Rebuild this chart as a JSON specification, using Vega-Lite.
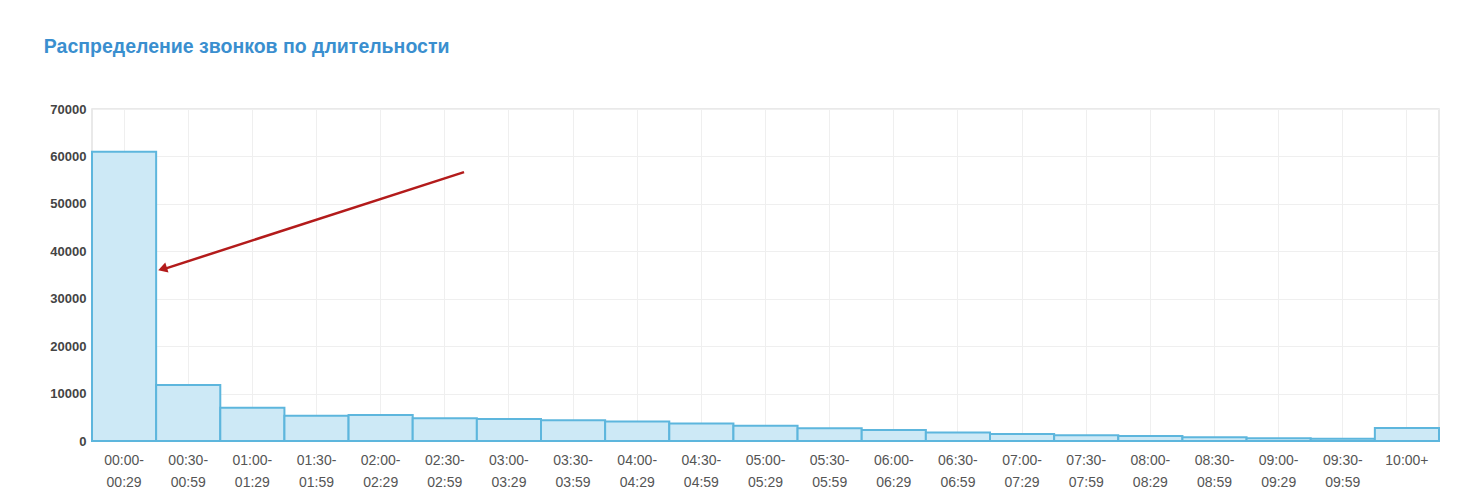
{
  "$schema": "https://vega.github.io/schema/vega-lite/v6.json",
  "autosize": "none",
  "width": 1347,
  "height": 332,
  "padding": {"left": 92, "top": 109, "right": 35, "bottom": 63},
  "background": "#ffffff",
  "title": {
    "text": "Распределение звонков по длительности",
    "anchor": "start",
    "frame": "bounds",
    "offset": 46,
    "dx": -6,
    "font": "Liberation Sans",
    "fontSize": 19.5,
    "fontWeight": "bold",
    "color": "#3a8fcf"
  },
  "config": {
    "view": {"stroke": "#e2e2e2", "strokeWidth": 1.5},
    "axis": {"gridColor": "#efefef", "gridWidth": 1, "domain": false, "ticks": false, "labelFont": "Liberation Sans", "labelFontSize": 12}
  },
  "layer": [
    {
      "data": {"values": [
        {"range": "00:00-00:29", "calls": 61000},
        {"range": "00:30-00:59", "calls": 11800},
        {"range": "01:00-01:29", "calls": 7000},
        {"range": "01:30-01:59", "calls": 5300},
        {"range": "02:00-02:29", "calls": 5500},
        {"range": "02:30-02:59", "calls": 4800},
        {"range": "03:00-03:29", "calls": 4650},
        {"range": "03:30-03:59", "calls": 4400},
        {"range": "04:00-04:29", "calls": 4100},
        {"range": "04:30-04:59", "calls": 3700},
        {"range": "05:00-05:29", "calls": 3200},
        {"range": "05:30-05:59", "calls": 2700},
        {"range": "06:00-06:29", "calls": 2300},
        {"range": "06:30-06:59", "calls": 1800},
        {"range": "07:00-07:29", "calls": 1450},
        {"range": "07:30-07:59", "calls": 1200},
        {"range": "08:00-08:29", "calls": 1050},
        {"range": "08:30-08:59", "calls": 800},
        {"range": "09:00-09:29", "calls": 600},
        {"range": "09:30-09:59", "calls": 450},
        {"range": "10:00+", "calls": 2750}
      ]},
      "mark": {"type": "bar", "fill": "#cde9f6", "stroke": "#5db6dd", "strokeWidth": 2, "opacity": 1},
      "encoding": {
        "x": {
          "field": "range", "type": "nominal", "sort": null,
          "scale": {"paddingInner": 0, "paddingOuter": 0},
          "axis": {
            "title": null, "labelAngle": 0, "bandPosition": 0.5, "grid": true,
            "labelPadding": 12, "labelLineHeight": 22, "labelColor": "#555555", "labelFontSize": 14,
            "labelExpr": "[substring(datum.label, 0, 6), substring(datum.label, 6)]"
          }
        },
        "y": {
          "field": "calls", "type": "quantitative",
          "scale": {"domain": [0, 70000]},
          "axis": {"title": null, "tickCount": 7, "format": "d", "labelPadding": 6, "labelColor": "#444444", "labelFontWeight": "bold", "labelFontSize": 13}
        }
      }
    },
    {
      "data": {"values": [{"ax": 5.8, "ay": 56700, "bx": 1.13, "by": 36300}]},
      "mark": {"type": "rule", "color": "#b31b1b", "strokeWidth": 2.5},
      "encoding": {
        "x": {"field": "ax", "type": "quantitative", "scale": {"domain": [0, 21]}, "axis": null},
        "x2": {"field": "bx"},
        "y": {"field": "ay", "type": "quantitative"},
        "y2": {"field": "by"}
      }
    },
    {
      "data": {"values": [{"tx": 1.1, "ty": 36300}]},
      "mark": {"type": "point", "shape": "triangle-left", "filled": true, "color": "#b31b1b", "opacity": 1, "size": 110, "angle": 342},
      "encoding": {
        "x": {"field": "tx", "type": "quantitative", "scale": {"domain": [0, 21]}, "axis": null},
        "y": {"field": "ty", "type": "quantitative"}
      }
    }
  ],
  "resolve": {"scale": {"x": "independent"}}
}
